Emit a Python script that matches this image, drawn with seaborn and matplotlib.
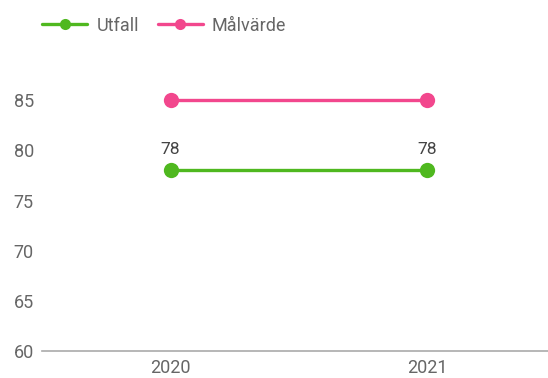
import pandas as pd
import matplotlib.pyplot as plt
import seaborn as sns
from matplotlib.lines import Line2D

years = ['2020', '2021']
utfall = [78, 78]
malvarde = [85, 85]
yticks = [60, 65, 70, 75, 80, 85]

df = pd.DataFrame({
    'År': years * 2,
    'Värde': utfall + malvarde,
    'Serie': ['Utfall'] * len(years) + ['Målvärde'] * len(years),
})

sns.set_style('white')
plt.rcParams['font.family'] = ['Roboto', 'DejaVu Sans']

fig = plt.figure(figsize=(5.48, 3.78), dpi=100)
ax = fig.add_axes([0.077, 0.071, 0.923, 0.797])

palette = {'Utfall': '#4fb81f', 'Målvärde': '#f2478d'}
sns.lineplot(data=df, x='År', y='Värde', hue='Serie', palette=palette,
             marker='o', markersize=11, markeredgewidth=0, linewidth=2.4,
             legend=False, ax=ax)

for i, v in enumerate(utfall):
    ax.annotate(str(v), (i, v), xytext=(0, 10), textcoords='offset points',
                ha='center', va='bottom', fontsize=12.5, color='#444444')

ax.set_xlim(-0.5, 1.47)
ax.set_ylim(60, 90)
ax.set_yticks(yticks)
ax.set_xlabel('')
ax.set_ylabel('')
ax.tick_params(length=0, labelsize=13, labelcolor='#666666')
ax.tick_params(axis='y', pad=6)
ax.tick_params(axis='x', pad=6)
for side in ['top', 'right', 'left']:
    ax.spines[side].set_visible(False)
ax.spines['bottom'].set_color('#aaaaaa')
ax.spines['bottom'].set_linewidth(1.2)

handles = [Line2D([], [], color=palette[s], marker='o', markersize=8,
                  markeredgewidth=0, linewidth=2.4) for s in ['Utfall', 'Målvärde']]
leg = ax.legend(handles, ['Utfall', 'Målvärde'], loc='center left',
                bbox_to_anchor=(0.0, 1.08), ncol=2, frameon=False,
                fontsize=13, handlelength=2.5, columnspacing=1.05, handletextpad=0.5,
                borderaxespad=0, borderpad=0)
for t in leg.get_texts():
    t.set_color('#666666')

fig.savefig('out.png', dpi=100)
